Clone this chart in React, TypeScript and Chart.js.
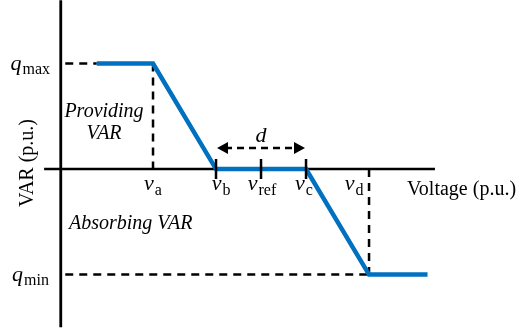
import React, { useEffect, useRef } from "react";
import { Chart, registerables } from "chart.js";

Chart.register(...registerables);

// ---- data (voltage in p.u., reactive power in p.u.) ----
const vA = 0.952;
const vB = 0.98;
const vRef = 1.0;
const vC = 1.02;
const vD = 1.048;
const qMax = 1;
const qMin = -1;
const curveVoltage = [0.927, vA, vB, vC, vD, 1.074];
const curveVar = [qMax, qMax, 0, 0, qMin, qMin];
const tickVoltages = [vB, vRef, vC];
const tickLabels = ["b", "ref", "c"];
const guideLabels = ["a", "d"];
const xAxisRange = [0.9036, 1.0773];
const yAxisRange = [1.6, -1.5];
const yAxisAt = 0.911;
const dArrowLevel = 0.2;

const X_MIN = 0.884;
const X_MAX = 1.1142;
const Y_MIN = -1.573;
const Y_MAX = 1.602;

const BLUE = "#0070C0";
const SERIF = "'Liberation Serif', 'Times New Roman', serif";

function pts(xs: number[], ys: number[]) {
  return xs.map((x, i) => ({ x, y: ys[i] }));
}

function mathLabel(
  ctx: CanvasRenderingContext2D,
  main: string,
  sub: string,
  x: number,
  y: number,
  align: "left" | "center" | "right",
  subDrop = 5
) {
  ctx.save();
  ctx.textBaseline = "alphabetic";
  ctx.textAlign = "left";
  const mainFont = `italic 22px ${SERIF}`;
  const subFont = `16px ${SERIF}`;
  ctx.font = mainFont;
  const w1 = ctx.measureText(main).width;
  ctx.font = subFont;
  const w2 = ctx.measureText(sub).width;
  const total = w1 + 1 + w2;
  let x0 = x;
  if (align === "center") x0 = x - total / 2;
  if (align === "right") x0 = x - total;
  ctx.fillStyle = "#000";
  ctx.font = mainFont;
  ctx.fillText(main, x0, y);
  ctx.font = subFont;
  ctx.fillText(sub, x0 + w1 + 1, y + subDrop);
  ctx.restore();
}

const annotationPlugin = {
  id: "annotations",
  afterDatasetsDraw(chart: any) {
    const ctx: CanvasRenderingContext2D = chart.ctx;
    const xs = chart.scales.x;
    const ys = chart.scales.y;
    const px = (v: number) => xs.getPixelForValue(v);
    const py = (v: number) => ys.getPixelForValue(v);
    const y0 = py(0);

    // d arrow heads
    const ay = py(dArrowLevel);
    ctx.save();
    ctx.fillStyle = "#000";
    const head = (tip: number, dir: number) => {
      ctx.beginPath();
      ctx.moveTo(tip, ay);
      ctx.lineTo(tip + dir * 11, ay - 6);
      ctx.lineTo(tip + dir * 11, ay + 6);
      ctx.closePath();
      ctx.fill();
    };
    head(px(vB) + 1, 1);
    head(px(vC) - 1, -1);
    ctx.restore();

    // d label
    ctx.save();
    ctx.fillStyle = "#000";
    ctx.font = `italic 22px ${SERIF}`;
    ctx.textAlign = "center";
    ctx.textBaseline = "alphabetic";
    ctx.fillText("d", px(vRef), ay - 6);
    ctx.restore();

    // q labels
    mathLabel(ctx, "q", "max", 50, py(qMax) + 6, "right", 4);
    mathLabel(ctx, "q", "min", 49, py(qMin) + 6, "right", 4);

    // v labels
    const vy = y0 + 21;
    mathLabel(ctx, "v", guideLabels[0], px(vA), vy, "center");
    mathLabel(ctx, "v", tickLabels[0], px(tickVoltages[0]) + 5, vy, "center");
    mathLabel(ctx, "v", tickLabels[1], px(tickVoltages[1]) + 1, vy, "center");
    mathLabel(ctx, "v", tickLabels[2], px(tickVoltages[2]) - 2, vy, "center");
    mathLabel(ctx, "v", guideLabels[1], px(vD) - 15, vy, "center");

    // text labels
    ctx.save();
    ctx.fillStyle = "#000";
    ctx.textBaseline = "middle";
    ctx.font = `20px ${SERIF}`;
    ctx.textAlign = "left";
    ctx.fillText("Voltage (p.u.)", 407, y0 + 21);

    ctx.font = `italic 20px ${SERIF}`;
    ctx.textAlign = "center";
    ctx.fillText("Providing", 104, 112);
    ctx.fillText("VAR", 104, 134);
    ctx.textAlign = "left";
    ctx.fillText("Absorbing VAR", 69, 224);

    ctx.translate(28, 163);
    ctx.rotate(-Math.PI / 2);
    ctx.font = `20px ${SERIF}`;
    ctx.textAlign = "center";
    ctx.fillText("VAR (p.u.)", 0, 0);
    ctx.restore();
  },
};

export default function App() {
  const ref = useRef<HTMLCanvasElement>(null);

  useEffect(() => {
    if (!ref.current) return;
    const black = "#000";
    const dash = [8, 6];
    const tickHalf = 0.095;
    const datasets: any[] = [
      {
        label: "curve",
        data: pts(curveVoltage, curveVar),
        borderColor: BLUE,
        borderWidth: 4.5,
        borderCapStyle: "butt",
        borderJoinStyle: "miter",
        order: 0,
      },
      {
        label: "x axis",
        data: pts(xAxisRange, [0, 0]),
        borderColor: black,
        borderWidth: 2.5,
        order: 5,
      },
      {
        label: "y axis",
        data: pts([yAxisAt, yAxisAt], yAxisRange),
        borderColor: black,
        borderWidth: 2.8,
        order: 5,
      },
      {
        label: "qmax guide",
        data: pts([yAxisAt + 0.002, curveVoltage[0]], [qMax, qMax]),
        borderColor: black,
        borderWidth: 2.5,
        borderDash: dash,
        order: 3,
      },
      {
        label: "qmin guide",
        data: pts([yAxisAt + 0.002, vD], [qMin, qMin]),
        borderColor: black,
        borderWidth: 2.5,
        borderDash: dash,
        order: 3,
      },
      {
        label: "va guide",
        data: pts([vA, vA], [qMax, 0]),
        borderColor: black,
        borderWidth: 2.5,
        borderDash: dash,
        order: 3,
      },
      {
        label: "vd guide",
        data: pts([vD, vD], [0, qMin]),
        borderColor: black,
        borderWidth: 2.5,
        borderDash: dash,
        order: 3,
      },
      {
        label: "d span",
        data: pts([vB + 0.004, vC - 0.004], [dArrowLevel, dArrowLevel]),
        borderColor: black,
        borderWidth: 2.5,
        borderDash: [7, 5],
        order: 3,
      },
      ...tickVoltages.map((v) => ({
        label: "tick",
        data: pts([v, v], [tickHalf, -tickHalf]),
        borderColor: black,
        borderWidth: 2.5,
        order: -1,
      })),
    ];

    const chart = new Chart(ref.current, {
      type: "line",
      data: { datasets },
      options: {
        animation: false,
        responsive: false,
        events: [],
        layout: { padding: 0 },
        elements: { point: { radius: 0 }, line: { tension: 0, fill: false } },
        plugins: { legend: { display: false }, tooltip: { enabled: false } },
        scales: {
          x: { type: "linear", min: X_MIN, max: X_MAX, display: false },
          y: { type: "linear", min: Y_MIN, max: Y_MAX, display: false },
        },
      },
      plugins: [annotationPlugin],
    });
    return () => chart.destroy();
  }, []);

  return (
    <div style={{ position: "fixed", left: 0, top: 0, width: 518, height: 335, background: "#fff" }}>
      <canvas ref={ref} width={518} height={335} style={{ display: "block" }} />
    </div>
  );
}
